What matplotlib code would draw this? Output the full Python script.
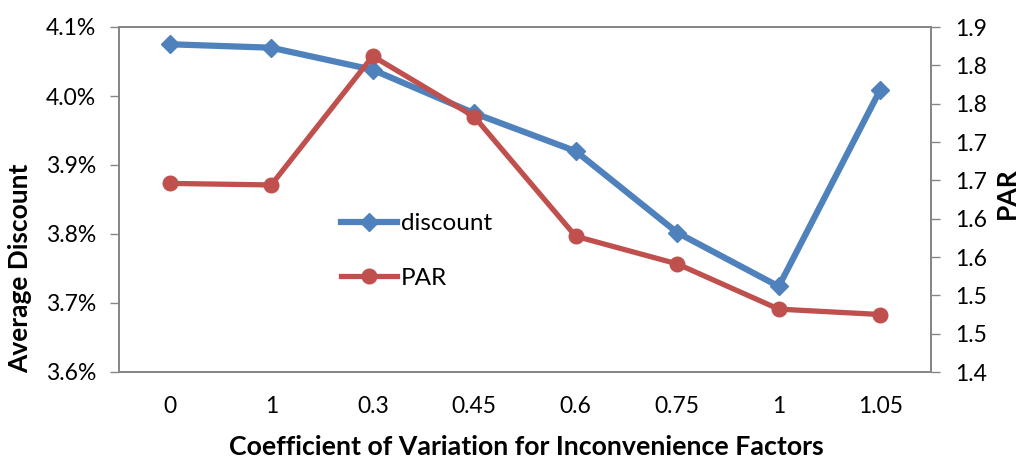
from decimal import Decimal, ROUND_HALF_UP

import matplotlib
matplotlib.use('Agg')
import matplotlib.pyplot as plt
import numpy as np

# categories along the x axis (as labelled)
cv_labels = ['0', '1', '0.3', '0.45', '0.6', '0.75', '1', '1.05']

# average discount in percent
discount = [4.075, 4.070, 4.038, 3.975, 3.920, 3.802, 3.724, 4.009]

# peak-to-average ratio
par = [1.646, 1.644, 1.812, 1.733, 1.577, 1.541, 1.482, 1.475]

blue = '#4F81BD'
red = '#C0504D'
axis_gray = '#868686'
font = ['Lato', 'DejaVu Sans']

plt.rcParams['font.family'] = font

W, H = 1021, 461
fig = plt.figure(figsize=(W / 100, H / 100), dpi=100)
ax = fig.add_axes([119 / W, 1 - 372 / H, (931 - 119) / W, (372 - 27) / H])
ax2 = ax.twinx()

x = np.arange(len(cv_labels))

l1, = ax.plot(x, discount, color=blue, lw=4.5, marker='D', ms=9,
              mec=blue, mfc=blue, label='discount', zorder=3)
l2, = ax2.plot(x, par, color=red, lw=3.8, marker='o', ms=10.5,
               mec=red, mfc=red, label='PAR', zorder=3)

ax.set_xlim(-0.5, len(cv_labels) - 0.5)
ax.set_xticks(x)
ax.set_xticklabels(cv_labels)

ax.set_ylim(3.6, 4.1)
left_ticks = np.arange(3.6, 4.1001, 0.1)
ax.set_yticks(left_ticks)
ax.set_yticklabels([f'{v:.1f}%' for v in left_ticks])

ax2.set_ylim(1.4, 1.85)
right_ticks = np.arange(1.4, 1.8501, 0.05)
ax2.set_yticks(right_ticks)


def one_decimal(v):
    # excel-style rounding, so 1.85 shows as 1.9
    d = Decimal(str(round(v, 2))).quantize(Decimal('0.1'), rounding=ROUND_HALF_UP)
    return str(d)


ax2.set_yticklabels([one_decimal(v) for v in right_ticks])

for a in (ax, ax2):
    for s in a.spines.values():
        s.set_color(axis_gray)
        s.set_linewidth(1.3)
    a.tick_params(colors=axis_gray, labelcolor='black', labelsize=16.5,
                  width=1.0, length=6.5)

ax.tick_params(axis='y', pad=10)
ax2.tick_params(axis='y', pad=11)
ax.tick_params(axis='x', length=0, pad=17)

fig.text(526 / W, 1 - 455 / H,
         'Coefficient of Variation for Inconvenience Factors',
         ha='center', va='baseline', fontsize=19.3, fontweight='bold')
fig.text(20 / W, 1 - 268 / H, 'Average Discount', rotation=90,
         ha='center', va='center', fontsize=19, fontweight='bold')
fig.text(1007 / W, 1 - 193 / H, 'PAR', rotation=90,
         ha='center', va='center', fontsize=19, fontweight='bold')

leg = ax2.legend([l1, l2], ['discount', 'PAR'], loc='upper left',
                 bbox_to_anchor=(341 / W, 1 - 213 / H),
                 bbox_transform=fig.transFigure, frameon=False,
                 fontsize=17.5, handlelength=2.3, handletextpad=0.16,
                 labelspacing=1.38, borderpad=0, borderaxespad=0)

fig.savefig('out.png', dpi=100)
